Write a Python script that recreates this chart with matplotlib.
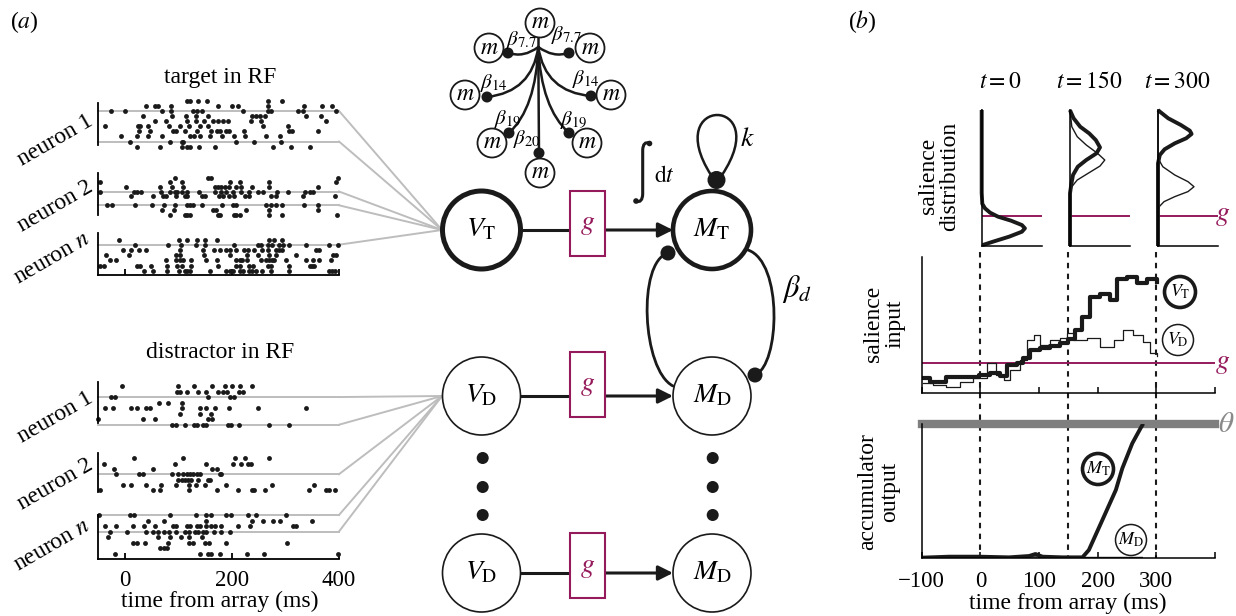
import numpy as np
import matplotlib
matplotlib.use('Agg')
import matplotlib.pyplot as plt
from matplotlib.patches import Circle, Rectangle, PathPatch
from matplotlib.path import Path

plt.rcParams['font.family'] = ['Liberation Serif', 'DejaVu Serif']
plt.rcParams['mathtext.fontset'] = 'stix'

W, H = 1236, 616
FS = 17
INK = '#1a1a1a'
GCOL = '#951a5c'
GRAY = '#bdbdbd'

# ---------------- data ----------------
# spike times (ms from array onset), one list per trial row, top to bottom
tgt_n1 = [[115, 121, 137, 153, 267, 294],
          [39, 56, 62, 85, 174, 200, 211, 267, 335, 368, 386],
          [-27, 0, 70, 85, 127, 134, 143, 220, 267, 273, 323, 332, 394],
          [33, 87, 114, 132, 155, 238, 245, 252, 261, 339, 366],
          [56, 76, 115, 132, 147, 165, 174, 183, 193, 236, 255, 375],
          [-37, 25, 28, 43, 83, 102, 120, 140, 155, 258, 304],
          [27, 47, 90, 95, 112, 134, 161, 171, 178, 188, 194, 222, 307, 312, 360],
          [-8, 22, 43, 70, 121, 129, 140, 158, 182, 203, 224, 264, 290],
          [9, 84, 106, 109, 207, 242, 292],
          [22, 65, 106, 116, 121, 139, 168, 276, 311, 346]]
tgt_n2 = [[93, 155, 160, 398],
          [-47, 84, 107, 196, 214, 270, 394],
          [2, 66, 87, 109, 168, 174, 180, 186, 194, 208, 217, 238, 269, 360],
          [-47, 16, 23, 29, 68, 84, 93, 97, 107, 115, 138, 168, 180, 188, 201, 217,
           232, 248, 258, 284, 304, 337, 346, 351],
          [12, 53, 71, 76, 95, 112, 116, 143, 149, 176, 184, 194, 203, 225, 232, 273,
           283, 332, 393],
          [],
          [-33, -25, 19, 50, 73, 93, 115, 121, 127, 143, 182, 201, 208, 264, 273, 283,
           294, 335, 360],
          [70, 91, 165, 170, 227, 270, 360],
          [84, 112, 116, 121, 174, 178, 203, 208, 215, 270, 294, 396]]
tgt_nn = [[-12, 101, 115, 135, 149, 172, 270, 278, 294],
          [19, 81, 104, 132, 149, 203, 248, 255, 267, 275, 288, 295, 306, 338, 381, 399],
          [-3, 12, 27, 40, 102, 146, 166, 177, 188, 196, 208, 222, 230, 242, 256, 267,
           283, 288, 294, 357, 363],
          [-35, 8, 95, 102, 147, 196, 228, 248, 270, 283, 320, 388, 394],
          [-28, -16, 76, 95, 102, 109, 124, 151, 172, 208, 214, 219, 228, 255, 263, 270,
           275, 279, 301, 338, 352, 363, 385],
          [-47, -40, 22, 28, 48, 79, 97, 106, 124, 174, 208, 214, 232, 239, 267, 273,
           306, 345, 350, 354],
          [36, 53, 79, 101, 112, 116, 121, 158, 189, 196, 202, 214, 220, 232, 238, 244,
           256, 273, 306, 381, 387, 393]]
dst_n1 = [[-6, 99, 129, 162, 186, 200, 215, 238],
          [98, 102, 115, 137, 151, 173, 183, 190, 213, 221],
          [-27, -19, 155, 196, 203],
          [64, 81, 106],
          [-37, -22, 12, 22, 39, 47, 106, 140, 152, 168, 194, 248, 339],
          [102, 140, 161],
          [-50, 33, 56, 155, 163],
          [87, 95, 112, 129, 135, 146, 151, 193, 199, 213, 270, 306]]
dst_n2 = [[16, 109, 205, 224, 270],
          [-39, 93, 152, 201, 217, 230, 236],
          [-20, 52, 163, 171],
          [-16, 27, 34, 87, 99, 109, 115, 121, 127, 134, 140, 177, 180],
          [99, 106, 112, 118, 124, 137, 155, 158],
          [-4, 12, 40, 68, 96, 120, 132, 149, 189, 275, 354],
          [-47, 53, 66, 120, 171, 211, 238, 242, 261, 343, 375, 381, 393]]
dst_nn = [[-48, 9, 17, 84, 132, 152, 160, 188, 199, 230, 244, 301],
          [43, 73, 151, 238, 257, 276, 289, 350],
          [-37, -17, 14, 35, 56, 89, 95, 115, 121, 135, 141, 151, 160, 168, 180, 211,
           233, 314, 320],
          [-28, 4, 40, 52, 62, 73, 83, 95, 112, 120, 130, 137, 145, 152, 166, 180, 196],
          [-31, 62, 84, 104, 120, 143],
          [14, 22, 37, 81, 120, 127, 149, 157, 188, 302],
          [66, 73, 79],
          [-19, 141, 155, 161, 177, 228, 259, 398]]
raster_ticks = [0, 200, 400]

# salience distributions: salience level (vertical) vs density (horizontal)
d0_sal = [1.0, 0.39, 0.31, 0.277, 0.245, 0.216, 0.186, 0.154, 0.13, 0.105, 0.069, 0.032, 0.007]
d0_tgt = [0.0, 0.0, 0.01, 0.055, 0.14, 0.27, 0.49, 0.67, 0.72, 0.67, 0.46, 0.19, 0.016]
d150_sal_T = [1.0, 0.988, 0.939, 0.877, 0.828, 0.779, 0.725, 0.681, 0.632, 0.583, 0.522, 0.449, 0.387, 0.0]
d150_tgt = [0.0, 0.01, 0.06, 0.17, 0.32, 0.43, 0.50, 0.44, 0.27, 0.13, 0.05, 0.02, 0.0, 0.0]
d150_sal_D = [1.0, 0.877, 0.804, 0.743, 0.681, 0.632, 0.588, 0.534, 0.485, 0.436, 0.387, 0.0]
d150_dst = [0.0, 0.03, 0.12, 0.27, 0.46, 0.58, 0.50, 0.30, 0.12, 0.03, 0.0, 0.0]
d300_sal_T = [1.0, 0.988, 0.939, 0.89, 0.848, 0.824, 0.792, 0.755, 0.711, 0.669, 0.608, 0.0]
d300_tgt = [0.0, 0.03, 0.17, 0.38, 0.53, 0.56, 0.47, 0.28, 0.11, 0.03, 0.0, 0.0]
d300_sal_D = [1.0, 0.645, 0.583, 0.522, 0.473, 0.436, 0.40, 0.363, 0.326, 0.289, 0.252, 0.0]
d300_dst = [0.0, 0.0, 0.08, 0.28, 0.50, 0.60, 0.50, 0.28, 0.10, 0.02, 0.0, 0.0]
snap_times = [0, 150, 300]
g_level = 0.22

# salience input traces
in_t_T = [-98, -86, -58, -30, -2, 16, 33, 45, 62, 73, 85, 102, 119, 136, 150, 162,
          173, 187, 204, 221, 233, 250, 267, 284, 301]
in_T = [0.11, 0.085, 0.117, 0.122, 0.134, 0.15, 0.127, 0.207, 0.22, 0.256, 0.317, 0.33,
        0.346, 0.366, 0.395, 0.463, 0.56, 0.707, 0.73, 0.683, 0.84, 0.854, 0.805, 0.84, 0.817]
in_t_D = [-98, -80, -58, -35, -12, 11, 26, 40, 51, 68, 80, 91, 102, 119, 136, 147,
          159, 182, 204, 227, 244, 261, 278, 290, 301]
in_D = [0.073, 0.061, 0.049, 0.085, 0.11, 0.22, 0.134, 0.098, 0.171, 0.244, 0.39, 0.427,
        0.354, 0.39, 0.402, 0.44, 0.39, 0.402, 0.341, 0.39, 0.463, 0.427, 0.378, 0.293, 0.273]

# accumulator output (theta = 1)
acc_t_T = [-98, -53, -2, 49, 83, 94, 106, 140, 174, 185, 208, 231, 242, 259, 273, 276]
acc_T = [0.005, 0.012, 0.012, 0.007, 0.017, 0.032, 0.012, 0.007, 0.007, 0.062, 0.285,
         0.509, 0.67, 0.856, 0.968, 0.99]
acc_t_D = [-98, -2, 100, 174, 276]
acc_D = [0.005, 0.01, 0.01, 0.006, 0.006]
theta = 1.0
time_ticks = [-100, 0, 100, 200, 300, 400]
time_labels = ['\u2212100', '0', '100', '200', '300', '']

# ---------------- figure ----------------
fig = plt.figure(figsize=(W / 100, H / 100), dpi=100)
ax0 = fig.add_axes([0, 0, 1, 1])
ax0.set_xlim(0, W)
ax0.set_ylim(H, 0)
ax0.axis('off')


def px_axes(x0, y0, x1, y1):
    ax = fig.add_axes([x0 / W, 1 - y1 / H, (x1 - x0) / W, (y1 - y0) / H])
    ax.patch.set_visible(False)
    return ax


def to_px(ax, x, y):
    return ax0.transData.inverted().transform(ax.transData.transform((x, y)))


def raster(rows, top, bot, y0, step, gray, conv, xaxis=False, labels=False):
    ax = px_axes(98.3, top, 339, bot)
    ax.set_xlim(-50, 400)
    ax.set_ylim((bot - y0) / step, (top - y0) / step)
    for s in ['top', 'right']:
        ax.spines[s].set_visible(False)
    ax.spines['left'].set_linewidth(1.3)
    ax.spines['bottom'].set_linewidth(1.3)
    ax.spines['bottom'].set_visible(xaxis)
    ax.set_yticks([])
    for g in gray:
        ax.plot([-50, 400], [g, g], color=GRAY, lw=1.4, clip_on=False, zorder=1)
        p = to_px(ax, 400, g)
        ax0.plot([p[0], conv[0]], [p[1], conv[1]], color=GRAY, lw=1.4, zorder=1)
    xs = [t for row in rows for t in row]
    ys = [i for i, row in enumerate(rows) for t in row]
    ax.plot(xs, ys, 'o', ms=3.5, color=INK, mec='none', clip_on=False, zorder=2)
    if xaxis:
        ax.set_xticks(raster_ticks)
        ax.tick_params(axis='x', direction='in', length=4, width=1.3, pad=8,
                       labelsize=16.5, labelbottom=labels)
    else:
        ax.set_xticks([])
    return ax


conv_T = (442, 230)
conv_D = (442, 396)
raster(tgt_n1, 103, 145, 100.7, 5.1, [2, 8], conv_T)
raster(tgt_n2, 173, 215, 177.7, 4.6, [3, 6], conv_T)
raster(tgt_nn, 233, 275, 239.5, 5.2, [1], conv_T, xaxis=True)
raster(dst_n1, 382, 423, 386, 5.53, [2, 7], conv_D)
raster(dst_n2, 453, 492, 458.3, 5.3, [3], conv_D)
raster(dst_nn, 515, 559, 515, 5.5, [0, 3], conv_D, xaxis=True, labels=True)

ax0.text(220, 77, 'target in RF', ha='center', va='center', fontsize=FS)
ax0.text(220, 352, 'distractor in RF', ha='center', va='center', fontsize=FS)
ax0.text(220, 601, 'time from array (ms)', ha='center', va='center', fontsize=FS)
for (x, y, s) in [(55, 140, '1'), (55, 206, '2'), (52, 258, '$n$'),
                  (55, 417, '1'), (55, 484, '2'), (52, 545, '$n$')]:
    ax0.text(x, y, 'neuron ' + s, ha='center', va='center', fontsize=FS, rotation=30,
             rotation_mode='anchor')
ax0.text(24, 22, '($a$)', ha='center', va='center', fontsize=FS)
ax0.text(862, 22, '($b$)', ha='center', va='center', fontsize=FS)


# ---- circuit diagram ----
def node(x, y, r, lw, label, fs):
    ax0.add_patch(Circle((x, y), r, fc='white', ec=INK, lw=lw, zorder=3))
    ax0.text(x, y, label, ha='center', va='center', fontsize=fs, zorder=4)


def dot(x, y, r):
    ax0.add_patch(Circle((x, y), r, fc=INK, ec='none', zorder=5))


def curve(pts, codes, lw=1.8):
    ax0.add_patch(PathPatch(Path(pts, codes), fc='none', ec=INK, lw=lw, zorder=2,
                            capstyle='round'))


VX, MX, R = 481.5, 712, 39
rows_y = [230, 396, 573]
box_top = [190.7, 351.7, 533.3]
for i, y in enumerate(rows_y):
    vlab = '$V_{\\mathrm{T}}$' if i == 0 else '$V_{\\mathrm{D}}$'
    mlab = '$M_{\\mathrm{T}}$' if i == 0 else '$M_{\\mathrm{D}}$'
    node(VX, y, R, 3.6 if i == 0 else 1.2, vlab, 20)
    node(MX, y, R, 3.3 if i == 0 else 1.2, mlab, 20)
    ax0.plot([VX + R, 570], [y, y], color=INK, lw=2.2, zorder=2)
    ax0.annotate('', xy=(MX - R, y), xytext=(605.3, y),
                 arrowprops=dict(arrowstyle='-|>', lw=2.2, color=INK, mutation_scale=22,
                                 shrinkA=0, shrinkB=0), zorder=2)
    ax0.add_patch(Rectangle((570, box_top[i]), 35.3, 65, fc='white', ec=GCOL, lw=1.5, zorder=3))
    ax0.text(587.6, box_top[i] + 34, '$g$', color=GCOL, ha='center', va='center',
             fontsize=20, zorder=4)
for yy in [458, 487, 515]:
    dot(482.7, yy, 6)
    dot(712.7, yy, 6)

C3, C4, L2 = Path.CURVE3, Path.CURVE4, Path.LINETO
# self excitation loop k
curve([(711, 175), (660, 95), (775, 95), (722, 175)], [Path.MOVETO, C4, C4, C4])
dot(716.5, 180, 9)
ax0.text(747, 139, '$k$', ha='center', va='center', fontsize=20)
# integral sign drawn as a stroke with ball ends, then "dt"
curve([(649.5, 143), (643, 141), (642.7, 150), (642.7, 194), (642.5, 203), (636, 201.5)],
      [Path.MOVETO, C3, C3, L2, C3, C3], lw=2.2)
dot(649.5, 143.5, 2.8)
dot(636, 201, 2.8)
ax0.text(664, 177, '$\\mathrm{d}t$', ha='center', va='center', fontsize=FS)
# mutual inhibition
curve([(673, 386), (642, 370), (637, 262), (668, 253)], [Path.MOVETO, C4, C4, C4], lw=2.0)
dot(668, 253, 7.5)
curve([(748, 250), (783, 262), (780, 365), (755, 375)], [Path.MOVETO, C4, C4, C4], lw=2.0)
dot(755, 375, 7.5)
ax0.text(797, 289, '$\\beta_d$', ha='center', va='center', fontsize=22)

# small network of m units
hub = (538.3, 47)
ax0.plot([538.3, 538.3], [37, 47], color=INK, lw=1.8)
m_nodes = [(540, 23), (489, 48), (590, 48), (465, 95), (611, 95), (492, 143), (587, 143), (540, 173)]
for (x, y) in m_nodes:
    node(x, y, 14.5, 1.3, '$m$', 17)
branches = [((508, 53), (524, 58)), ((569, 53), (553, 58)),
            ((487, 97), (532, 92)), ((591, 96), (545, 92)),
            ((509, 133), (536, 108)), ((569, 133), (541, 108)),
            ((539, 153), (538.6, 100))]
for end, ctrl in branches:
    curve([hub, ctrl, end], [Path.MOVETO, C3, C3], lw=1.8)
    dot(end[0], end[1], 5.5)
for (x, y, s) in [(521, 40, '7.7'), (566, 35, '7.7'), (494, 83, '14'), (586, 79, '14'),
                  (508, 119, '19'), (574, 120, '19'), (527, 139, '20')]:
    ax0.text(x, y, '$\\beta_{%s}$' % s, ha='center', va='center', fontsize=15, zorder=6)

# ---------------- panel b ----------------
def clean(ax):
    for s in ['top', 'right']:
        ax.spines[s].set_visible(False)
    for s in ['left', 'bottom']:
        ax.spines[s].set_linewidth(1.1)


dist_sets = [(d0_sal, d0_tgt, d0_sal, d0_tgt),
             (d150_sal_T, d150_tgt, d150_sal_D, d150_dst),
             (d300_sal_T, d300_tgt, d300_sal_D, d300_dst)]
dist_x = [981.7, 1070, 1158]
for k, (sT, dT, sD, dD) in enumerate(dist_sets):
    ax = px_axes(dist_x[k], 110, dist_x[k] + 60, 246)
    clean(ax)
    ax.set_xlim(0, 1)
    ax.set_ylim(0, 1)
    ax.set_xticks([])
    ax.set_yticks([])
    ax.axhline(g_level, color=GCOL, lw=1.4)
    ax.plot(dD, sD, color=INK, lw=1.0, clip_on=False)
    ax.plot(dT, sT, color=INK, lw=2.8, clip_on=False, solid_capstyle='butt')
    ax0.text(dist_x[k] + 19, 83, '$t=%d$' % snap_times[k], ha='center', va='center',
             fontsize=FS)
ax0.text(1223, 216, '$g$', color=GCOL, ha='center', va='center', fontsize=20)

ax_in = px_axes(921.7, 256.7, 1215, 393.3)
clean(ax_in)
ax_in.set_xlim(-100, 400)
ax_in.set_ylim(0, 1)
ax_in.set_yticks([])
ax_in.set_xticks(time_ticks)
ax_in.tick_params(axis='x', direction='in', length=4, width=1.1, labelbottom=False)
ax_in.axhline(g_level, color=GCOL, lw=1.4)
ax_in.plot(in_t_D, in_D, color=INK, lw=0.9, drawstyle='steps-post')
ax_in.plot(in_t_T, in_T, color=INK, lw=3.0, drawstyle='steps-post')
ax0.text(1223, 363, '$g$', color=GCOL, ha='center', va='center', fontsize=20)

ax_acc = px_axes(921.7, 424, 1215, 558.3)
clean(ax_acc)
ax_acc.set_xlim(-100, 400)
ax_acc.set_ylim(0, 1)
ax_acc.set_yticks([])
ax_acc.set_xticks(time_ticks)
ax_acc.set_xticklabels(time_labels)
ax_acc.tick_params(axis='x', direction='in', length=4, width=1.1, pad=9, labelsize=16.5)
ax_acc.axhline(theta, color='#7f7f7f', lw=6.0, clip_on=False)
ax_acc.plot(acc_t_D, acc_D, color=INK, lw=1.0)
ax_acc.plot(acc_t_T, acc_T, color=INK, lw=2.8)
ax0.text(1226, 425, '$\\theta$', color='#8a8a8a', ha='center', va='center', fontsize=21)
ax0.text(1068, 603, 'time from array (ms)', ha='center', va='center', fontsize=FS)

for t in snap_times:
    x = to_px(ax_in, t, 0)[0]
    ax0.plot([x, x], [252, 558], color=INK, lw=1.5, ls=(0, (2.6, 2.6)), zorder=0)

# trace labels
for (x, y, lab, lw) in [(1180, 292, '$V_{\\mathrm{T}}$', 2.6), (1178, 340, '$V_{\\mathrm{D}}$', 1.1),
                        (1098, 469, '$M_{\\mathrm{T}}$', 2.6), (1131, 540, '$M_{\\mathrm{D}}$', 1.1)]:
    node(x, y, 15.5, lw, lab, 13)

ax0.text(939, 176, 'salience\ndistribution', rotation=90, ha='center', va='center',
         fontsize=FS, multialignment='center', linespacing=1.05)
ax0.text(884, 324, 'salience\ninput', rotation=90, ha='center', va='center',
         fontsize=FS, multialignment='center', linespacing=1.05)
ax0.text(879, 492, 'accumulator\noutput', rotation=90, ha='center', va='center',
         fontsize=FS, multialignment='center', linespacing=1.05)

fig.savefig('out.png', dpi=100)
